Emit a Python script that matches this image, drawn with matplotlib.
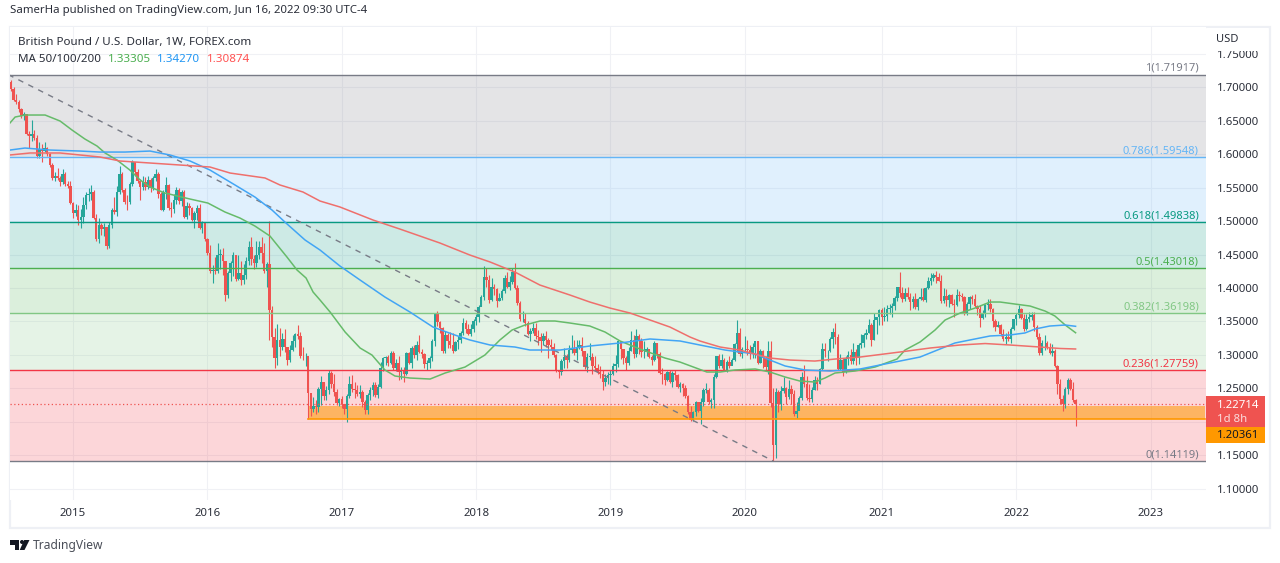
import matplotlib
matplotlib.use('Agg')
import matplotlib.pyplot as plt
import matplotlib.dates as mdates
from matplotlib.patches import Rectangle, Polygon, Ellipse
import numpy as np
import pandas as pd

plt.rcParams['font.family'] = ['Noto Sans', 'DejaVu Sans']

first_open = 1.713

# weekly closes, highs, lows
closes_2014 = [1.708,1.697,1.682,1.678,1.668,1.657,1.660,1.631,1.627,1.631,1.625,1.598,1.608,1.605,1.609,1.600,1.584,1.564,1.567,1.564,1.558,1.571,1.556,1.553,1.527]
highs_2014 = [1.716,1.711,1.700,1.690,1.681,1.670,1.664,1.660,1.635,1.652,1.637,1.629,1.619,1.616,1.618,1.611,1.602,1.587,1.573,1.580,1.568,1.578,1.573,1.560,1.560]
lows_2014 = [1.705,1.695,1.680,1.675,1.664,1.655,1.652,1.629,1.610,1.620,1.622,1.595,1.594,1.588,1.604,1.597,1.581,1.561,1.560,1.561,1.553,1.556,1.553,1.550,1.526]

closes_2015 = [1.512,1.517,1.502,1.506,1.524,1.539,1.540,1.543,1.505,1.473,1.494,1.488,1.491,1.463,1.495,1.517,1.513,1.544,1.570,1.547,1.529,1.528,1.556,1.588,1.574,1.560,1.551,1.559,1.551,1.562,1.549,1.564,1.570,1.541,1.517,1.543,1.554,1.520,1.518,1.532,1.546,1.530,1.543,1.506,1.522,1.519,1.502,1.512,1.520,1.490,1.497,1.474]
highs_2015 = [1.529,1.526,1.524,1.518,1.536,1.544,1.549,1.554,1.546,1.510,1.505,1.497,1.497,1.492,1.499,1.520,1.536,1.552,1.582,1.573,1.550,1.539,1.559,1.591,1.589,1.578,1.563,1.567,1.566,1.568,1.565,1.567,1.578,1.574,1.544,1.546,1.566,1.556,1.529,1.540,1.551,1.550,1.546,1.546,1.529,1.527,1.521,1.515,1.524,1.526,1.500,1.497]
lows_2015 = [1.505,1.507,1.495,1.490,1.497,1.518,1.530,1.532,1.503,1.470,1.468,1.480,1.478,1.458,1.460,1.490,1.510,1.507,1.540,1.544,1.526,1.517,1.526,1.552,1.567,1.557,1.531,1.547,1.546,1.548,1.544,1.546,1.560,1.534,1.516,1.515,1.533,1.516,1.506,1.512,1.526,1.526,1.523,1.505,1.503,1.509,1.500,1.490,1.501,1.488,1.483,1.470]

closes_2016 = [1.453,1.425,1.427,1.425,1.450,1.450,1.440,1.389,1.423,1.437,1.449,1.413,1.422,1.412,1.420,1.440,1.461,1.444,1.437,1.450,1.462,1.452,1.426,1.436,1.367,1.327,1.295,1.322,1.311,1.324,1.311,1.292,1.307,1.320,1.331,1.328,1.299,1.298,1.298,1.243,1.219,1.224,1.222,1.249,1.259,1.238,1.247,1.273,1.256,1.244,1.228,1.234]
highs_2016 = [1.475,1.464,1.435,1.446,1.467,1.458,1.460,1.441,1.426,1.441,1.454,1.450,1.450,1.440,1.436,1.447,1.470,1.477,1.450,1.470,1.471,1.476,1.467,1.439,1.500,1.373,1.340,1.346,1.340,1.332,1.339,1.311,1.314,1.330,1.333,1.345,1.334,1.312,1.303,1.297,1.240,1.237,1.233,1.252,1.269,1.258,1.253,1.277,1.276,1.272,1.249,1.236]
lows_2016 = [1.450,1.423,1.408,1.421,1.423,1.429,1.420,1.380,1.385,1.410,1.418,1.410,1.412,1.404,1.406,1.413,1.435,1.435,1.428,1.432,1.443,1.437,1.423,1.401,1.322,1.312,1.280,1.285,1.298,1.307,1.304,1.285,1.289,1.306,1.311,1.324,1.296,1.292,1.283,1.204,1.208,1.214,1.212,1.215,1.225,1.232,1.233,1.242,1.251,1.238,1.225,1.223]

closes_2017 = [1.227,1.219,1.238,1.256,1.249,1.248,1.241,1.245,1.230,1.217,1.240,1.248,1.255,1.240,1.252,1.281,1.295,1.297,1.288,1.302,1.281,1.288,1.274,1.278,1.271,1.302,1.288,1.310,1.300,1.314,1.304,1.301,1.287,1.288,1.295,1.320,1.361,1.349,1.340,1.306,1.329,1.320,1.314,1.306,1.319,1.322,1.333,1.347,1.338,1.331,1.338,1.351]
highs_2017 = [1.239,1.224,1.242,1.268,1.270,1.259,1.255,1.255,1.248,1.233,1.243,1.252,1.260,1.259,1.256,1.290,1.297,1.298,1.300,1.305,1.305,1.294,1.298,1.282,1.282,1.304,1.304,1.313,1.315,1.320,1.329,1.308,1.303,1.292,1.299,1.323,1.362,1.365,1.351,1.341,1.335,1.332,1.334,1.332,1.321,1.328,1.336,1.355,1.352,1.346,1.346,1.353]
lows_2017 = [1.220,1.211,1.200,1.235,1.244,1.235,1.238,1.236,1.222,1.211,1.212,1.233,1.238,1.237,1.236,1.250,1.276,1.285,1.284,1.287,1.278,1.276,1.263,1.264,1.260,1.270,1.287,1.280,1.295,1.293,1.303,1.295,1.280,1.277,1.280,1.291,1.313,1.343,1.332,1.303,1.303,1.310,1.310,1.303,1.306,1.309,1.318,1.329,1.332,1.330,1.328,1.334]

closes_2018 = [1.356,1.372,1.386,1.416,1.412,1.382,1.402,1.398,1.381,1.385,1.395,1.415,1.402,1.409,1.424,1.400,1.378,1.353,1.354,1.347,1.331,1.336,1.340,1.328,1.327,1.321,1.328,1.322,1.314,1.311,1.300,1.277,1.274,1.291,1.297,1.293,1.307,1.308,1.303,1.311,1.315,1.305,1.282,1.297,1.297,1.284,1.280,1.274,1.272,1.259,1.266,1.270]
highs_2018 = [1.361,1.374,1.390,1.433,1.430,1.419,1.415,1.406,1.400,1.392,1.399,1.420,1.424,1.418,1.430,1.438,1.405,1.381,1.365,1.362,1.350,1.340,1.347,1.347,1.337,1.333,1.332,1.336,1.325,1.324,1.317,1.301,1.278,1.294,1.310,1.301,1.315,1.330,1.322,1.322,1.322,1.326,1.306,1.302,1.317,1.302,1.299,1.287,1.283,1.277,1.272,1.275]
lows_2018 = [1.345,1.349,1.373,1.382,1.401,1.377,1.380,1.389,1.371,1.380,1.382,1.393,1.400,1.397,1.406,1.398,1.375,1.351,1.349,1.343,1.329,1.320,1.332,1.324,1.315,1.304,1.315,1.312,1.296,1.307,1.297,1.274,1.266,1.270,1.281,1.281,1.289,1.303,1.300,1.293,1.308,1.298,1.279,1.274,1.293,1.272,1.277,1.272,1.266,1.247,1.254,1.256]

closes_2019 = [1.272,1.284,1.287,1.320,1.308,1.295,1.288,1.305,1.322,1.301,1.328,1.320,1.304,1.304,1.308,1.297,1.293,1.318,1.301,1.273,1.271,1.263,1.274,1.260,1.273,1.270,1.252,1.257,1.250,1.238,1.215,1.203,1.215,1.229,1.216,1.229,1.248,1.248,1.229,1.233,1.267,1.298,1.283,1.293,1.278,1.290,1.284,1.293,1.316,1.333,1.301,1.308]
highs_2019 = [1.277,1.288,1.300,1.322,1.321,1.308,1.298,1.311,1.335,1.329,1.338,1.331,1.325,1.320,1.312,1.309,1.300,1.320,1.318,1.304,1.280,1.273,1.276,1.278,1.276,1.278,1.272,1.259,1.258,1.255,1.240,1.224,1.216,1.231,1.230,1.235,1.250,1.258,1.250,1.236,1.271,1.299,1.301,1.301,1.295,1.292,1.298,1.296,1.318,1.352,1.340,1.312]
lows_2019 = [1.255,1.270,1.275,1.282,1.294,1.287,1.277,1.285,1.305,1.295,1.297,1.301,1.297,1.295,1.298,1.296,1.285,1.291,1.296,1.271,1.257,1.255,1.261,1.258,1.252,1.262,1.250,1.244,1.238,1.235,1.212,1.201,1.201,1.209,1.214,1.196,1.223,1.243,1.227,1.221,1.221,1.265,1.280,1.280,1.276,1.275,1.281,1.286,1.291,1.304,1.299,1.296]

closes_2020 = [1.309,1.307,1.301,1.311,1.320,1.288,1.305,1.296,1.282,1.305,1.228,1.165,1.245,1.227,1.246,1.250,1.237,1.249,1.241,1.211,1.216,1.235,1.267,1.256,1.235,1.234,1.248,1.262,1.257,1.279,1.309,1.305,1.305,1.324,1.334,1.327,1.279,1.292,1.275,1.294,1.300,1.291,1.304,1.295,1.315,1.318,1.330,1.332,1.344,1.322,1.352,1.356,1.367]
highs_2020 = [1.328,1.322,1.315,1.317,1.321,1.320,1.309,1.307,1.299,1.320,1.320,1.250,1.250,1.248,1.254,1.267,1.252,1.262,1.255,1.247,1.230,1.238,1.274,1.285,1.269,1.257,1.252,1.269,1.267,1.280,1.317,1.317,1.307,1.327,1.340,1.348,1.331,1.301,1.296,1.298,1.306,1.308,1.318,1.309,1.318,1.331,1.332,1.339,1.354,1.348,1.363,1.357,1.368]
lows_2020 = [1.305,1.300,1.294,1.295,1.295,1.287,1.288,1.281,1.278,1.272,1.222,1.141,1.145,1.215,1.217,1.243,1.226,1.234,1.227,1.209,1.206,1.217,1.232,1.252,1.233,1.230,1.229,1.247,1.247,1.256,1.278,1.297,1.291,1.304,1.310,1.316,1.277,1.277,1.268,1.273,1.285,1.286,1.287,1.285,1.287,1.310,1.311,1.324,1.332,1.313,1.322,1.331,1.345]

closes_2021 = [1.356,1.358,1.369,1.370,1.373,1.385,1.401,1.393,1.384,1.392,1.386,1.379,1.383,1.372,1.383,1.387,1.382,1.400,1.410,1.415,1.419,1.416,1.411,1.380,1.388,1.382,1.390,1.376,1.375,1.390,1.388,1.387,1.362,1.376,1.387,1.384,1.373,1.368,1.355,1.362,1.374,1.376,1.368,1.350,1.341,1.344,1.331,1.323,1.326,1.324,1.339,1.353]
highs_2021 = [1.370,1.371,1.375,1.376,1.377,1.388,1.402,1.424,1.401,1.400,1.401,1.392,1.388,1.392,1.385,1.400,1.400,1.401,1.417,1.423,1.422,1.425,1.422,1.420,1.400,1.398,1.391,1.391,1.384,1.398,1.396,1.392,1.388,1.379,1.388,1.390,1.391,1.375,1.374,1.367,1.376,1.383,1.384,1.370,1.353,1.351,1.346,1.338,1.332,1.336,1.342,1.353]
lows_2021 = [1.344,1.351,1.351,1.361,1.357,1.367,1.381,1.387,1.379,1.381,1.383,1.367,1.370,1.368,1.367,1.382,1.380,1.379,1.398,1.404,1.410,1.407,1.410,1.378,1.378,1.373,1.372,1.375,1.357,1.373,1.381,1.380,1.360,1.359,1.369,1.376,1.372,1.360,1.341,1.353,1.356,1.367,1.364,1.342,1.335,1.341,1.328,1.320,1.316,1.320,1.317,1.337]

closes_2022 = [1.359,1.368,1.355,1.339,1.353,1.356,1.359,1.341,1.326,1.303,1.317,1.318,1.312,1.303,1.306,1.283,1.257,1.234,1.226,1.249,1.263,1.249,1.232,1.22714]
highs_2022 = [1.362,1.375,1.370,1.361,1.361,1.364,1.364,1.364,1.344,1.333,1.322,1.329,1.320,1.317,1.316,1.308,1.285,1.264,1.240,1.252,1.266,1.266,1.259,1.234]
lows_2022 = [1.344,1.355,1.353,1.336,1.337,1.349,1.352,1.336,1.323,1.300,1.300,1.307,1.308,1.301,1.298,1.282,1.241,1.226,1.216,1.220,1.241,1.247,1.230,1.194]

closes = closes_2014 + closes_2015 + closes_2016 + closes_2017 + closes_2018 + closes_2019 + closes_2020 + closes_2021 + closes_2022
highs = highs_2014 + highs_2015 + highs_2016 + highs_2017 + highs_2018 + highs_2019 + highs_2020 + highs_2021 + highs_2022
lows = lows_2014 + lows_2015 + lows_2016 + lows_2017 + lows_2018 + lows_2019 + lows_2020 + lows_2021 + lows_2022

# moving averages, read every few weeks (week number, price)
ma50_weeks = [0.6,2.6,6.4,14.2,20,24.6,29.6,34.3,37.4,42,47,51,54.8,60.6,70.3,77.2,83.8,89.6,95.4,101.2,107.8,111.7,115.2,117.9,120.6,124.5,130.3,136.1,140.7,145.7,149.6,155.4,163.2,169,176.7,184.4,190.2,194.9,199.9,205.7,211.5,217.3,225,230.9,236.7,244.4,254.1,259.9,270.3,275.4,281.2,289,294.7,300.6,306.3,312.1,316,319.9,327.6,335.4,343.9,347,352.8,358.6,362.5,368.3,374.1,379.9,383.8,389.5,395.4,401.2,405,409,413]
ma50_vals = [1.6469,1.6558,1.6588,1.6588,1.6498,1.6364,1.6229,1.6124,1.6020,1.5915,1.5765,1.5616,1.5511,1.5421,1.5331,1.5271,1.5137,1.5047,1.4927,1.4778,1.4463,1.4269,1.4149,1.3940,1.3820,1.3640,1.3341,1.3102,1.2997,1.2773,1.2683,1.2653,1.2638,1.2728,1.2817,1.2997,1.3222,1.3371,1.3446,1.3506,1.3506,1.3476,1.3431,1.3341,1.3207,1.3087,1.2952,1.2892,1.2743,1.2743,1.2773,1.2788,1.2743,1.2668,1.2608,1.2593,1.2653,1.2728,1.2758,1.2818,1.2937,1.3072,1.3192,1.3371,1.3521,1.3625,1.3700,1.3790,1.3790,1.3760,1.3730,1.3655,1.3581,1.3446,1.33305]
ma100_weeks = [0.6,6.4,16.1,27.7,35.4,45.1,54.8,62.5,70.3,78,87.7,95.4,102,107,114.8,120.6,128.3,136.1,145.7,155.4,164.3,172.8,178.6,186.4,196,201.8,213.5,225,236.7,248.3,259.9,267.6,277.3,289,294.7,300.6,308.3,318,329.6,337.3,345,352.8,360.5,366.3,372.1,379.9,387.6,393.4,397.3,403,409,413]
ma100_vals = [1.6064,1.6094,1.6064,1.6049,1.6034,1.6034,1.6049,1.5990,1.5900,1.5765,1.5541,1.5361,1.5167,1.4987,1.4718,1.4568,1.4329,1.4119,1.3865,1.3640,1.3416,1.3296,1.3222,1.3147,1.3117,1.3072,1.3072,1.3132,1.3177,1.3237,1.3207,1.3147,1.3072,1.3012,1.2922,1.2833,1.2773,1.2758,1.2788,1.2848,1.2907,1.2967,1.3087,1.3177,1.3222,1.3282,1.3297,1.3327,1.3386,1.3431,1.3446,1.34270]
ma200_weeks = [0.6,8.4,20,27.7,35.4,43.2,54.8,66.4,78,85.8,99.3,105.1,114,120.6,128.3,141.1,151.5,167,178.6,186.4,196,205.7,217.3,225,232.8,240.6,248.3,256,263.8,267.6,275.4,283,294.7,302.5,312.1,319.9,329.6,345,356.7,368.3,378,387.6,399.2,407,413]
ma200_vals = [1.5990,1.6020,1.6020,1.5990,1.5960,1.5900,1.5870,1.5840,1.5810,1.5720,1.5646,1.5541,1.5436,1.5301,1.5212,1.5017,1.4882,1.4673,1.4493,1.4389,1.4239,1.4044,1.3895,1.3790,1.3700,1.3625,1.3521,1.3416,1.3266,1.3207,1.3117,1.3072,1.2952,1.2922,1.2907,1.2937,1.2967,1.3042,1.3102,1.3147,1.3169,1.3147,1.3117,1.3095,1.30874]

fib_ratios = ['1', '0.786', '0.618', '0.5', '0.382', '0.236', '0']
fib_levels = [1.71917, 1.59548, 1.49838, 1.43018, 1.36198, 1.27759, 1.14119]
fib_colors = ['#787b86', '#64b5f6', '#089981', '#4caf50', '#81c784', '#f23645', '#787b86']

price_ticks = [1.10, 1.15, 1.20, 1.25, 1.30, 1.35, 1.40, 1.45, 1.50, 1.55, 1.60, 1.65, 1.70, 1.75]
year_labels = ['2015', '2016', '2017', '2018', '2019', '2020', '2021', '2022', '2023']
year_ticks = ['2015-01-05', '2016-01-04', '2017-01-02', '2018-01-01', '2018-12-31', '2019-12-30', '2021-01-04', '2022-01-03', '2023-01-02']

last_price = 1.22714
zone_top = 1.2234
zone_bottom = 1.20361

UP = '#26a69a'
DOWN = '#ef5350'
GREEN = '#4caf50'
BLUE = '#2196f3'
RED = '#ff5252'
ORANGE = '#ff9800'
TEXT = '#2a2e39'
W, H = 1280, 563


def fx(px):
    return px / W


def fy(py):
    return 1 - py / H


def week_nums(weeks):
    return start_num + np.asarray(weeks) * 7


def fig_rect(fig, x0, y0, x1, y1, zorder=5, **kw):
    fig.add_artist(Rectangle((fx(x0), fy(y1)), (x1 - x0) / W, (y1 - y0) / H,
                             transform=fig.transFigure, zorder=zorder, **kw))


fig = plt.figure(figsize=(12.8, 5.63), dpi=100, facecolor='white')

fig_rect(fig, 9.5, 27, 1270, 527.5, zorder=-1, facecolor='white', edgecolor='#eef0f5', linewidth=1.6)

ax = fig.add_axes([fx(10), fy(500), 1196 / W, 473 / H])
for s in ax.spines.values():
    s.set_visible(False)

dates = pd.date_range('2014-07-14', periods=len(closes), freq='7D')
start_num = mdates.date2num(dates[0])
x = mdates.date2num(dates)
closes = np.array(closes)
opens = np.concatenate([[first_open], closes[:-1]])
highs = np.array(highs)
lows = np.array(lows)

ax.set_xlim(start_num + 4.3, start_num + 3244.3)
ax.set_ylim(1.0828, 1.7905)

ax.set_axisbelow(True)
ax.grid(True, color='#f0f1f5', linewidth=0.75)

# fib bands
for i in range(len(fib_levels) - 1):
    ax.axhspan(fib_levels[i + 1], fib_levels[i], color=fib_colors[i], alpha=0.2, linewidth=0, zorder=1)

zone_x = [x[116], start_num + 3242]
ax.fill_between(zone_x, zone_bottom, zone_top, color=ORANGE, alpha=0.55, linewidth=0, zorder=1.5)

# candles
up = closes >= opens
colors = np.where(up, UP, DOWN)
ax.vlines(x, lows, highs, colors=colors, linewidth=0.8, zorder=2)
ax.bar(x, np.maximum(np.abs(closes - opens), 0.0008), bottom=np.minimum(opens, closes), width=6.6,
       color=colors, linewidth=0, zorder=2.1)

# fib lines and labels
trans = ax.get_yaxis_transform()
for ratio, level, color in zip(fib_ratios, fib_levels, fib_colors):
    ax.axhline(level, color=color, linewidth=1.0, zorder=3)
    ax.text(0.9941, level + 0.0012, f'{ratio}({level:.5f})', transform=trans, ha='right', va='bottom',
            color=color, fontsize=8, zorder=6)

ax.plot(zone_x, [zone_bottom, zone_bottom], color=ORANGE, linewidth=1.2, zorder=3)

# trend line
ax.plot([x[0], x[296]], [fib_levels[0], fib_levels[-1]], color='#787b86', linewidth=1.0,
        linestyle=(0, (4, 4)), zorder=3.2)

ax.axhline(last_price, color=DOWN, linewidth=0.9, linestyle=(0, (1, 2)), zorder=3.3)

ax.plot(week_nums(ma50_weeks), ma50_vals, color='#66bb6a', linewidth=1.1, zorder=4)
ax.plot(week_nums(ma100_weeks), ma100_vals, color='#42a5f5', linewidth=1.1, zorder=4)
ax.plot(week_nums(ma200_weeks), ma200_vals, color='#ef6f6c', linewidth=1.1, zorder=4)

# axes, the 1.20000 label sits under the price tags
ax.yaxis.tick_right()
ax.set_yticks(price_ticks)
ax.set_yticklabels(['' if p == 1.20 else f'{p:.5f}' for p in price_ticks])
ax.set_xticks(mdates.date2num(pd.to_datetime(year_ticks)))
ax.set_xticklabels(year_labels)
ax.tick_params(axis='y', length=0, pad=8, labelsize=8.2, labelcolor=TEXT)
ax.tick_params(axis='x', length=0, pad=5.5, labelsize=8.2, labelcolor=TEXT)

# chrome over the axes
fig_rect(fig, 1207, 28, 1268, 50.5, facecolor='white', linewidth=0)
fig.text(fx(1216), fy(40), 'USD', fontsize=8, color=TEXT, va='center', ha='left', zorder=6)

fig_rect(fig, 1206, 396, 1265, 427, facecolor=DOWN, linewidth=0)
fig_rect(fig, 1206, 427, 1265, 443, facecolor=ORANGE, linewidth=0)
fig.text(fx(1217), fy(405), f'{last_price:.5f}', fontsize=8.2, color='white', fontweight='bold', va='center', zorder=6)
fig.text(fx(1217), fy(419), '1d 8h', fontsize=8.2, color='#fbdcdc', va='center', zorder=6)
fig.text(fx(1217), fy(435.5), f'{zone_bottom:.5f}', fontsize=8.2, color='#131722', va='center', zorder=6)

fig.text(fx(10), fy(10), 'SamerHa published on TradingView.com, Jun 16, 2022 09:30 UTC-4', fontsize=8.2, color=TEXT, va='center')
fig.text(fx(18), fy(42), 'British Pound / U.S. Dollar, 1W, FOREX.com', fontsize=8.35, color=TEXT, va='center', zorder=6)
fig.text(fx(18), fy(59), 'MA 50/100/200', fontsize=8.35, color=TEXT, va='center', zorder=6)
fig.text(fx(108), fy(59), f'{ma50_vals[-1]:.5f}', fontsize=8.35, color=GREEN, va='center', zorder=6)
fig.text(fx(157), fy(59), f'{ma100_vals[-1]:.5f}', fontsize=8.35, color=BLUE, va='center', zorder=6)
fig.text(fx(207), fy(59), f'{ma200_vals[-1]:.5f}', fontsize=8.35, color=RED, va='center', zorder=6)

# logo
for pts in ([(10, 540), (19.3, 540), (19.3, 550), (15, 550), (15, 544.5), (10, 544.5)],
            [(24.2, 540), (29.5, 540), (24.5, 550), (19.7, 550)]):
    fig.add_artist(Polygon([(fx(a), fy(b)) for a, b in pts], closed=True, transform=fig.transFigure,
                           facecolor='#131722', linewidth=0))
fig.add_artist(Ellipse((fx(22), fy(542)), 4 / W, 4 / H, transform=fig.transFigure, facecolor='#131722', linewidth=0))
fig.text(fx(33), fy(545), 'TradingView', fontsize=8.7, color='#4a4e58', va='center')

fig.savefig('out.png', dpi=100)
